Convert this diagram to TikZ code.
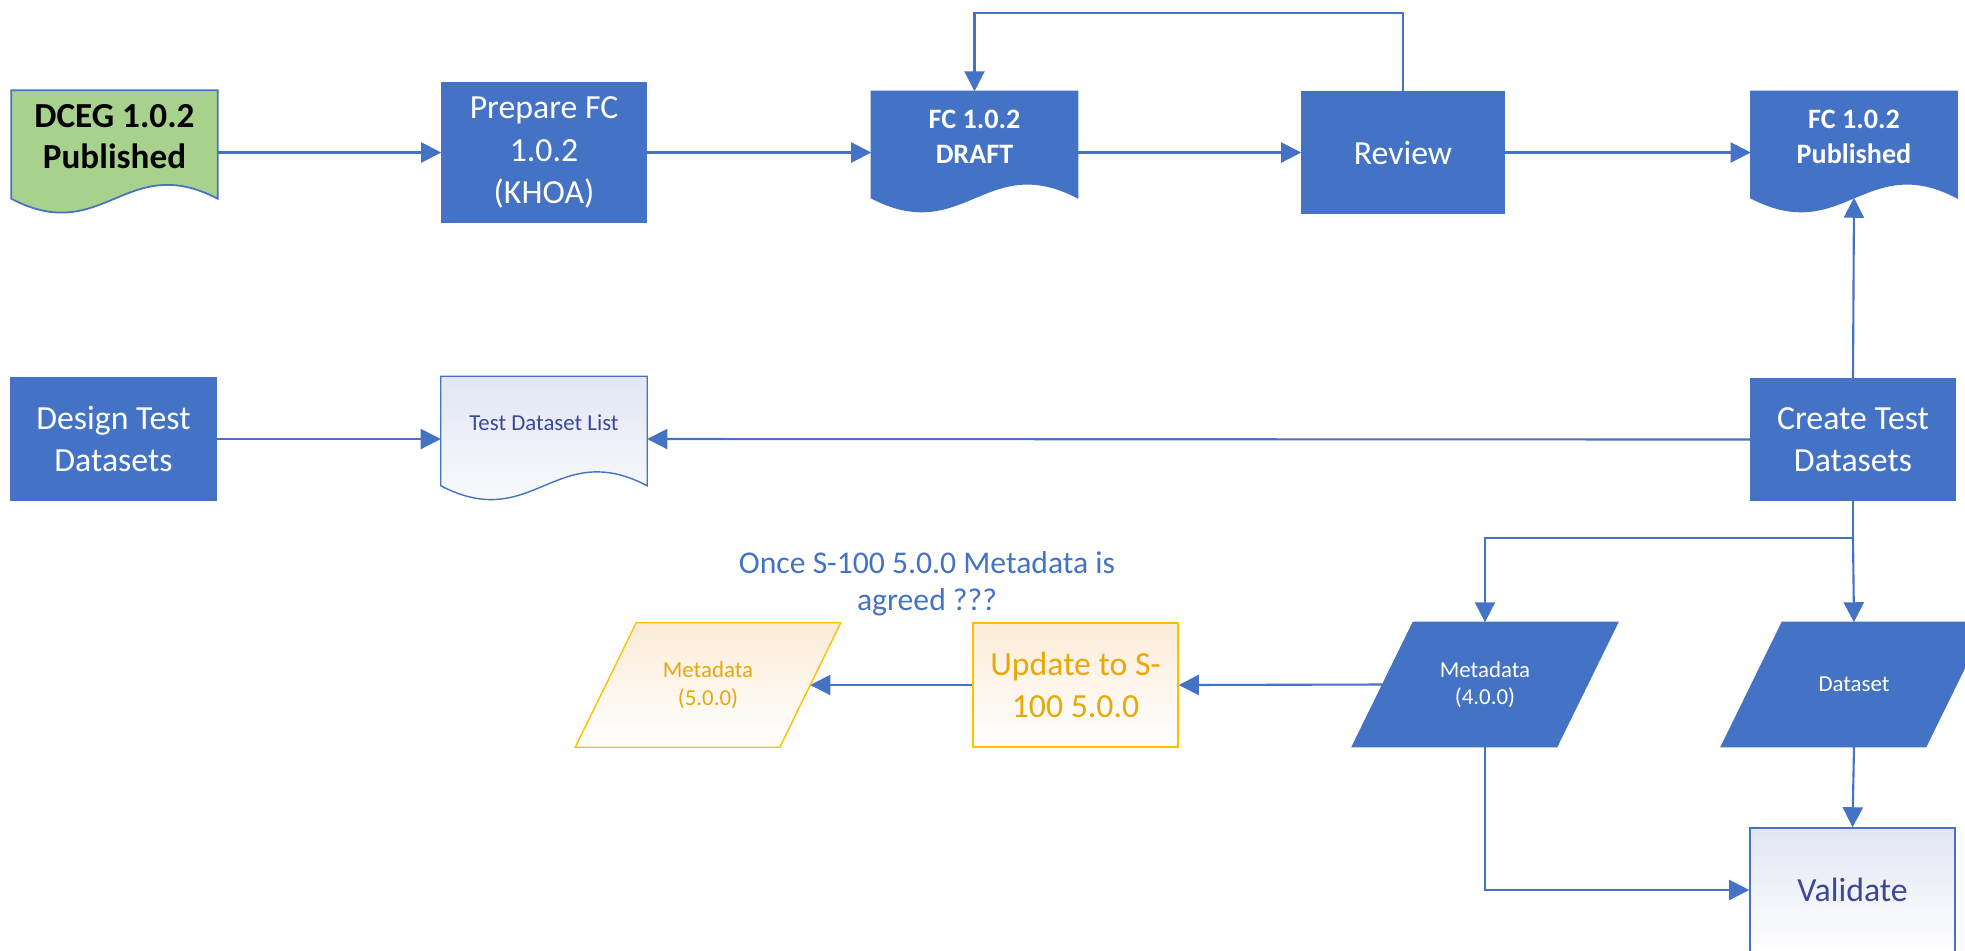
\documentclass[tikz,border=0pt]{standalone}
\usepackage{fontspec}
\setmainfont{Carlito}
\usepackage{tikz}
\usetikzlibrary{arrows.meta}
\usetikzlibrary{backgrounds}
\usepackage{xcolor}
\definecolor{ColBlue}{RGB}{68,114,196}
\definecolor{ColGreen}{RGB}{169,209,142}
\definecolor{ColGold}{RGB}{255,192,0}
\definecolor{ColGoldText}{RGB}{232,168,8}
\definecolor{ColPeach}{RGB}{252,236,216}
\definecolor{ColMist}{RGB}{226,230,244}
\definecolor{ColInk}{RGB}{58,72,150}
\tikzstyle{BigFont}=[font=\fontsize{9.6}{12}\selectfont]
\tikzstyle{ProcBox}=[rectangle,fill=ColBlue,draw=ColBlue,text=white,align=center,
minimum width=2.04cm,minimum height=1.21cm,inner sep=2pt,BigFont]
\tikzstyle{DocNode}=[rectangle,minimum width=2.05cm,minimum height=1.22cm,inner sep=0pt]
\tikzstyle{DocText}=[align=center,yshift=0.16cm]
\tikzstyle{DataNode}=[rectangle,minimum width=2.03cm,minimum height=1.23cm,align=center,
inner sep=0pt,font=\fontsize{6.5}{7.8}\selectfont]
\tikzstyle{PeachFill}=[top color=ColPeach,bottom color=white]
\tikzstyle{MistFill}=[top color=ColMist,bottom color=white]
\tikzstyle{Flow}=[ColBlue,line width=0.6pt,-{Triangle[length=0.2cm,width=0.2cm]}]
\newcommand{\DocShape}[2]{%
  \path[#2](#1.north west)--(#1.north east)--([yshift=0.16cm]#1.south east)
    .. controls ([xshift=-0.92cm,yshift=0.64cm]#1.south east) and ([xshift=0.92cm,yshift=-0.32cm]#1.south west) ..
    ([yshift=0.16cm]#1.south west)--cycle;}
\newcommand{\DataShape}[2]{%
  \path[#2]([xshift=0.305cm]#1.north west)--([xshift=0.305cm]#1.north east)
    --([xshift=-0.305cm]#1.south east)--([xshift=-0.305cm]#1.south west)--cycle;}

\begin{document}
\begin{tikzpicture}[x=0.01cm,y=-0.01cm]
        \useasboundingbox(0,0)rectangle(1965,950);
        % top row
        \node[DocNode,minimum height=1.23cm,label={[DocText,font=\fontsize{10}{11.7}\selectfont\bfseries]center:{DCEG 1.0.2\\Published}}](dceg)at(114.5,152.5){};
        \node[ProcBox,minimum height=1.39cm](prep)at(544,152.5){Prepare FC\\1.0.2\\(KHOA)};
        \node[DocNode,minimum height=1.21cm,label={[DocText,text=white,font=\fontsize{8}{10}\selectfont\bfseries]center:{FC 1.0.2\\DRAFT}}](draft)at(974.5,152.5){};
        \node[ProcBox,minimum width=2.02cm](rev)at(1403,152.5){Review};
        \node[DocNode,minimum height=1.21cm,label={[DocText,text=white,font=\fontsize{8}{10}\selectfont\bfseries]center:{FC 1.0.2\\Published}}](pub)at(1854,152.5){};
        % middle row
        \node[ProcBox,minimum width=2.05cm,minimum height=1.22cm](des)at(113.5,439){Design Test\\Datasets};
        \node[DocNode,minimum height=1.24cm,label={[DocText,text=ColInk,font=\fontsize{6.5}{8}\selectfont]center:{Test Dataset List}}](tdl)at(544,439){};
        \node[ProcBox](cre)at(1853,439.5){Create Test\\Datasets};
        % bottom row
        \node[text=ColBlue,align=center,font=\fontsize{9}{10.5}\selectfont](note)at(927,584){Once S-100 5.0.0 Metadata is\\agreed ???};
        \node[DataNode,text=ColGoldText](meta5)at(708,685){Metadata\\(5.0.0)};
        \node[ProcBox,minimum width=2.05cm,minimum height=1.24cm,PeachFill,draw=ColGold,text=ColGoldText](upd)at(1075.5,685){Update to S-\\100 5.0.0};
        \node[DataNode,text=white](meta4)at(1485,684.5){Metadata\\(4.0.0)};
        \node[DataNode,text=white](ds)at(1854,684.5){Dataset};
        \node[ProcBox,minimum width=2.05cm,minimum height=1.24cm,MistFill,text=ColInk](val)at(1852.5,890){Validate};
        \coordinate(split)at(1853,538);
        % outlines behind the texts
        \begin{pgfonlayer}{background}
        \DocShape{dceg}{fill=ColGreen,draw=ColBlue,line width=0.5pt}
        \DocShape{draft}{fill=ColBlue,draw=ColBlue}
        \DocShape{pub}{fill=ColBlue,draw=ColBlue}
        \DocShape{tdl}{MistFill,draw=ColBlue}
        \DataShape{meta5}{PeachFill,draw=ColGold}
        \DataShape{meta4}{fill=ColBlue,draw=ColBlue}
        \DataShape{ds}{fill=ColBlue,draw=ColBlue}
        \end{pgfonlayer}
        % connectors
        \draw[Flow](dceg.east)--(prep.west);
        \draw[Flow](prep.east)--(draft.west);
        \draw[Flow](draft.east)--(rev.west);
        \draw[Flow](rev.east)--(pub.west);
        \draw[Flow](rev.north)--(rev.north|-0,13)-|(draft.north);
        \draw[Flow](cre.north)--([yshift=0.16cm]pub.south);
        \draw[Flow](des.east)--(tdl.west);
        \draw[Flow](cre.west)--(tdl.east);
        \draw[ColBlue,line width=0.6pt](cre.south)--(split);
        \draw[Flow](split)-|(meta4.north);
        \draw[Flow](split)--(ds.north);
        \draw[Flow](meta4.west)--(upd.east);
        \draw[Flow](upd.west)--(meta5.east);
        \draw[Flow](meta4.south)|-(val.west);
        \draw[Flow](ds.south)--(val.north);
    \end{tikzpicture}
\end{document}
